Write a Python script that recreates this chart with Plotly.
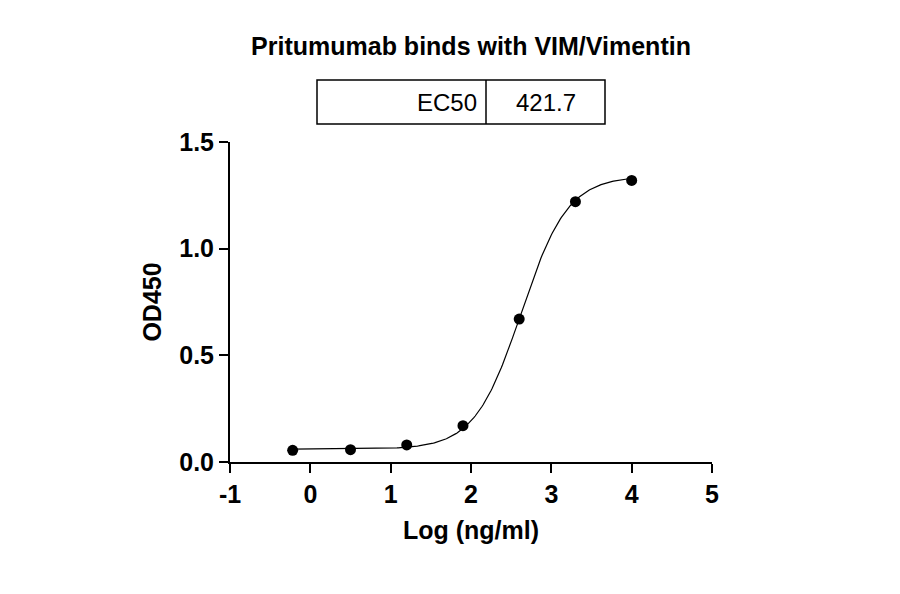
import numpy as np
import plotly.graph_objects as go

# measured points
log_conc = [-0.22, 0.5, 1.2, 1.9, 2.6, 3.3, 4.0]
od450 = [0.055, 0.058, 0.08, 0.17, 0.67, 1.22, 1.32]

# 4PL fit parameters
bottom, top, ec50, hill = 0.06, 1.34, 421.7, 1.5
xs = np.linspace(-0.22, 4.0, 300)
fit = bottom + (top - bottom) / (1 + 10 ** (hill * (np.log10(ec50) - xs)))

family = "Liberation Sans, Arial"
big = dict(family=family, size=25, color="black")

fig = go.Figure()
fig.add_trace(go.Scatter(x=xs, y=fit, mode="lines", line=dict(color="black", width=1.2), hoverinfo="skip"))
fig.add_trace(go.Scatter(x=log_conc, y=od450, mode="markers", marker=dict(color="black", size=11)))

# plot area in px: x 229..711, y 142..462
L, R, T, B = 229, 711, 142, 462
def px(x): return (x - L) / (R - L)
def py(y): return (B - y) / (B - T)

fig.add_shape(type="rect", xref="paper", yref="paper", x0=px(316), x1=px(604), y0=py(124), y1=py(80),
              line=dict(color="black", width=1.5))
fig.add_shape(type="line", xref="paper", yref="paper", x0=px(485), x1=px(485), y0=py(124), y1=py(80),
              line=dict(color="black", width=1.5))
fig.add_annotation(xref="paper", yref="paper", x=px(478), y=py(102), text="EC50", showarrow=False,
                   xanchor="right", yanchor="middle", font=dict(family=family, size=24, color="black"))
fig.add_annotation(xref="paper", yref="paper", x=px(545), y=py(102), text="421.7", showarrow=False,
                   xanchor="center", yanchor="middle", font=dict(family=family, size=24, color="black"))

fig.update_layout(
    width=900, height=594, showlegend=False,
    paper_bgcolor="white", plot_bgcolor="white",
    margin=dict(l=L - 7, r=900 - R + 7, t=T - 8, b=594 - B + 8),
    title=dict(text="<b>Pritumumab binds with VIM/Vimentin</b>", x=0.5, xref="paper", y=0.935,
               xanchor="center", yanchor="middle", font=dict(family=family, size=25, color="black")),
)
fig.update_xaxes(range=[-1, 5], tickvals=[-1, 0, 1, 2, 3, 4, 5],
                 ticktext=[f"<b>{v}</b>" for v in [-1, 0, 1, 2, 3, 4, 5]], tickfont=big,
                 showgrid=False, zeroline=False, showline=True, linecolor="black", linewidth=2,
                 ticks="outside", ticklen=9, tickwidth=2, tickcolor="black",
                 title=dict(text="<b>Log (ng/ml)</b>", standoff=14, font=big))
fig.update_yaxes(range=[0, 1.5], tickvals=[0, 0.5, 1.0, 1.5],
                 ticktext=["<b>0.0</b>", "<b>0.5</b>", "<b>1.0</b>", "<b>1.5</b>"], tickfont=big,
                 showgrid=False, zeroline=False, showline=True, linecolor="black", linewidth=2,
                 ticks="outside", ticklen=9, tickwidth=2, tickcolor="black",
                 title=dict(text="<b>OD450</b>", standoff=10, font=big))

fig.write_html("out.html")
